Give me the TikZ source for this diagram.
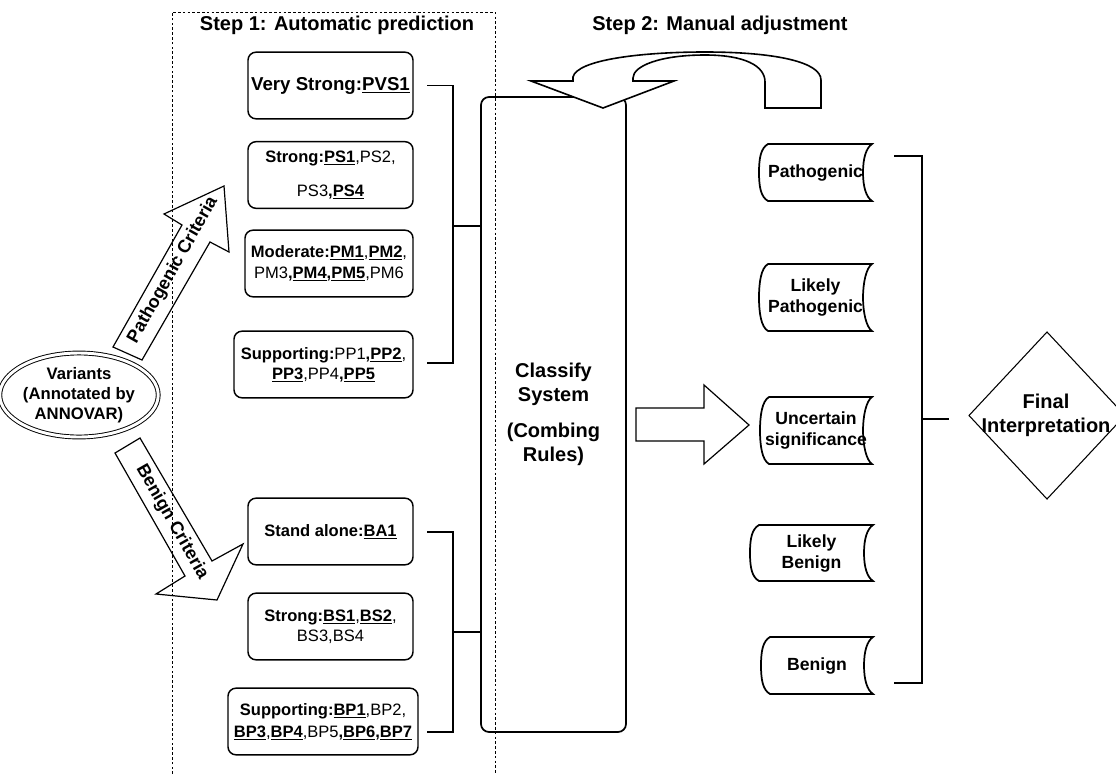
\documentclass[tikz,border=0pt]{standalone}
\usepackage{fontspec}
\setmainfont{Liberation Sans}
\usetikzlibrary{calc,shapes.geometric}
\newcommand\bu[1]{\underline{\textbf{#1}}}
\newcommand\fsz[2]{\fontsize{#1}{#2}\selectfont}
\newcommand\outshape[1]{%
 \draw[oline] ($(#1.north west)+(9,0)$) -- (#1.north east)
   .. controls ($(#1.north east)+(-6,4)$) and ($(#1.east)+(-9,-14)$) .. ($(#1.east)+(-9,0)$)
   .. controls ($(#1.east)+(-9,14)$) and ($(#1.south east)+(-6,-4)$) .. (#1.south east)
   -- ($(#1.south west)+(9,0)$)
   .. controls ($(#1.south west)+(2,-4)$) and ($(#1.west)+(0,15)$) .. (#1.west)
   .. controls ($(#1.west)+(0,-15)$) and ($(#1.north west)+(2,4)$) .. cycle;}
\begin{document}
\begin{tikzpicture}[x=0.75pt,y=-0.75pt,
  crit/.style={draw, rounded corners=6pt, line width=1.1pt, inner sep=0pt, outer sep=0pt,
    align=center, minimum width=123.75pt, minimum height=50pt, font=\fsz{12.4}{15}},
  brk/.style={line width=1.4pt},
  oline/.style={line width=1.3pt},
  outc/.style={inner sep=0pt, outer sep=0pt, align=center, font=\fsz{13.2}{15.75}\bfseries},
  barrow/.style={line width=0.9pt, line join=miter},
  title/.style={font=\fsz{15}{18}\bfseries}]
\fill[white] (0,0) rectangle (1116,774);
\useasboundingbox (0,0) rectangle (1116,774);

% dashed frame of step 1
\draw[dash pattern=on 2pt off 1.6pt, line width=0.6pt] (172,774) -- (172,12) -- (495,12) -- (495,774);

\node[title] (t1) at (337,25) {Step 1: Automatic prediction};
\node[title] (t2) at (720,25) {Step 2: Manual adjustment};

% pathogenic criteria boxes
\node[crit, font=\fsz{14}{17}\bfseries] (vs) at (330.5,85.5) {Very Strong:\underline{PVS1}};
\node[crit, font=\fsz{12.4}{25.5}] (ps) at (330.5,175) {\textbf{Strong:}\bu{PS1},PS2,\\PS3\textbf{,}\bu{PS4}};
\node[crit, minimum width=126pt, font=\fsz{12.4}{15.75}] (pm) at (329,263.5) {\textbf{Moderate:}\bu{PM1},\bu{PM2},\\PM3\textbf{,}\bu{PM4}\textbf{,}\bu{PM5},PM6};
\node[crit, minimum width=134.25pt] (pp) at (323.5,364.5) {\textbf{Supporting:}PP1\textbf{,}\bu{PP2},\\\bu{PP3},PP4\textbf{,}\bu{PP5}};

% benign criteria boxes
\node[crit] (ba) at (330.5,531.5) {\textbf{Stand alone:}\bu{BA1}};
\node[crit] (bs) at (330.5,626.5) {\textbf{Strong:}\bu{BS1},\bu{BS2},\\BS3,BS4};
\node[crit, minimum width=142.5pt, font=\fsz{12.4}{16.5}] (bp) at (323,721.5) {\textbf{Supporting:}\bu{BP1},BP2,\\\bu{BP3},\bu{BP4},BP5\textbf{,}\bu{BP6}\textbf{,}\bu{BP7}};

% classify system
\node[draw, rounded corners=6pt, line width=1.3pt, inner sep=0pt, outer sep=0pt,
  minimum width=108.75pt, minimum height=476.25pt, align=center, font=\fsz{15}{18}\bfseries]
  (cls) at (553.5,414.5) {Classify\\System\\[9pt](Combing\\Rules)};

% brackets to classify system
\coordinate (pj) at (453,226);
\coordinate (bj) at (453,632);
\draw[brk] ($(vs.east)+(14,0)$) -| (pj) |- ($(pp.east)+(14,-1.5)$);
\draw[brk] (pj) -- (pj -| cls.west);
\draw[brk] ($(ba.east)+(14,0.5)$) -| (bj) |- ($(bp.east)+(9,10.5)$);
\draw[brk] (bj) -- (bj -| cls.west);

% U-turn arrow (manual adjustment)
\draw[line width=1.2pt, fill=white, line join=miter] (531,81) -- (573,81) -- (573,77)
  .. controls (577,60) and (640,52) .. (705,52)
  .. controls (775,52) and (821,62) .. (821,80) -- (821,108) -- (765,108) -- (765,82)
  .. controls (765,66) and (745,55) .. (705,55)
  .. controls (660,55) and (633,66) .. (633,78) -- (633,81) -- (674,81) -- (603,108) -- cycle;

% variants ellipse
\node[ellipse, draw, double, double distance=2.2pt, line width=0.7pt, minimum width=97.5pt,
  minimum height=63pt, inner sep=0pt, align=center, font=\fsz{12.5}{15}\bfseries]
  (var) at (79,395) {Variants\\(Annotated by\\ANNOVAR)};

% criteria block arrows
\draw[barrow] (113,347) -- (182,225) -- (164,214) -- (224,186) -- (229,252) -- (210,242) -- (142,360) -- cycle;
\node[rotate=60.5, font=\fsz{13.5}{16}\bfseries] (pc) at (173,270) {Pathogenic Criteria};
\draw[barrow] (115,453) -- (185,576) -- (156,594) -- (217,600) -- (243,544) -- (212,561) -- (140,438) -- cycle;
\node[rotate=-60.4, font=\fsz{13.5}{16}\bfseries] (bc) at (172,522) {Benign Criteria};

% big arrow to outcomes
\draw[barrow] (636,408) -- (704,408) -- (704,385) -- (749,425) -- (704,464) -- (704,441) -- (636,441) -- cycle;

% outcomes
\node[outc, minimum width=84.75pt, minimum height=42.75pt] (pat) at (815.5,172.5) {Pathogenic};
\node[outc, minimum width=84.75pt, minimum height=50.25pt] (lp) at (815.5,297.5) {Likely\\Pathogenic};
\node[outc, minimum width=84pt, minimum height=50.25pt] (us) at (816,430.5) {Uncertain\\significance};
\node[outc, minimum width=92.25pt, minimum height=42pt] (lb) at (811.5,553) {Likely\\Benign};
\node[outc, minimum width=84pt, minimum height=42.75pt] (ben) at (817,665.5) {Benign};
\outshape{pat}
\outshape{lp}
\outshape{us}
\outshape{lb}
\outshape{ben}

% right bracket
\coordinate (rj) at (922,419);
\coordinate (fe) at (949,419);
\draw[brk] ($(pat.east)+(22,-16.5)$) -| (rj) |- ($(ben.east)+(21,17.5)$);
\draw[brk] (rj) -- (fe);

% final interpretation
\node[font=\fsz{15}{18}\bfseries, align=center, inner sep=0pt] (fin) at (1046,415.5) {Final\\Interpretation};
\draw[line width=0.8pt] ($(fin)+(1,-83.5)$) -- ($(fin)+(-77,0)$) -- ($(fin)+(1,83.5)$) -- ($(fin)+(79,0)$) -- cycle;
\end{tikzpicture}
\end{document}
